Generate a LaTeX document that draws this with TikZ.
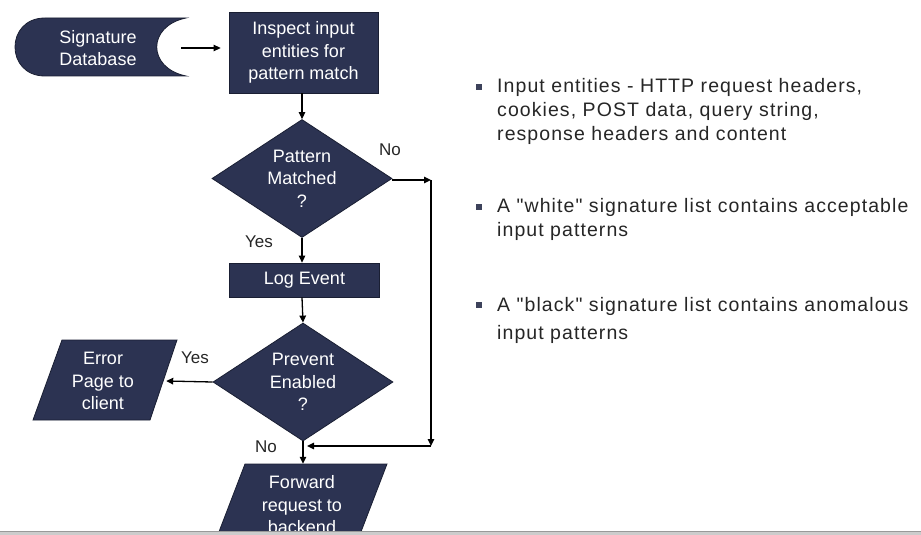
\documentclass[tikz,border=0pt]{standalone}
\usepackage{fontspec}
\setmainfont{Liberation Sans}
\newfontfamily\rtfont[LetterSpace=5.5]{Liberation Sans}
\usetikzlibrary{arrows.meta,shapes.geometric}
\definecolor{navy}{HTML}{2C3352}
\definecolor{edge}{HTML}{1A1F33}
\definecolor{ink}{HTML}{262626}
\begin{document}
\begin{tikzpicture}[x=1pt,y=-1pt,
  shapefill/.style={fill=navy,draw=edge,line width=0.8pt},
  ntext/.style={text=white,font=\fontsize{18}{22.5}\selectfont,align=center,inner sep=0pt},
  box/.style={shapefill,ntext,rectangle},
  decision/.style={shapefill,ntext,diamond,aspect=1.5,minimum width=180pt,minimum height=118pt},
  plain/.style={ntext,rectangle},
  arr/.style={-{Triangle[length=7pt,width=6.5pt]},line width=1.3pt,black},
  lbl/.style={text=ink,font=\fontsize{17}{20}\selectfont,inner sep=0pt},
  rtext/.style={text=ink,font=\rtfont\fontsize{19.5}{24}\selectfont,align=left,anchor=west,inner sep=0pt},
  bulletsq/.style={fill=navy!80!gray,minimum size=6pt,inner sep=0pt,rectangle}
]
\useasboundingbox (0,0) rectangle (921,535);
\clip (0,0) rectangle (921,535);
\fill[white] (0,0) rectangle (921,535);

% Signature database (stored data shape)
\path[shapefill] (45,18) -- (186,18) .. controls (147,26) and (147,68) .. (186,76) -- (45,76) .. controls (5,76) and (5,18) .. (45,18) -- cycle;
\node[plain,minimum width=166pt,minimum height=58pt] (db) at (98,48) {Signature\\Database};

\node[box,minimum width=149pt,minimum height=81pt] (inspect) at (303.5,52.5) {Inspect input\\entities for\\pattern match};
\node[decision] (match) at (302,178.5) {Pattern\\Matched\\?};
\node[box,minimum width=150pt,minimum height=34pt] (log) at (304.5,280) {Log Event};
\node[decision] (prevent) at (303,382) {Prevent\\Enabled\\?};

% Error page parallelogram
\path[shapefill] (62,340) -- (177,340) -- (150,420) -- (33,420) -- cycle;
\node[plain,minimum width=126pt,minimum height=80pt] (err) at (103,381) {Error\\Page to\\client};

% Forward parallelogram
\path[shapefill] (245,464) -- (387,464) -- (354,550) -- (212,550) -- cycle;
\node[plain,minimum width=120pt,minimum height=82pt] (fwd) at (302,505) {Forward\\request to\\backend};

% connectors
\draw[arr] (db.east) -- ([xshift=-8pt]inspect.west |- db.east);
\draw[arr] (inspect.south -| match.north) -- (match.north);
\draw[arr] (match.south) -- (match.south |- log.north);
\draw[arr] (match.south |- log.south) -- (prevent.north);
\draw[arr] (prevent.west) -- (err.east);
\draw[arr] (prevent.south) -- (prevent.south |- fwd.north);
\coordinate (c1) at (431,180);
\coordinate (c2) at (431,446);
\draw[arr] (match.east |- c1) -- (c1);
\draw[arr] (c1) -- (c2);
\draw[arr] (c2) -- ([xshift=4pt]prevent.south |- c2);

% labels
\node[lbl] (no1) at (390,150) {No};
\node[lbl] (yes1) at (259,242) {Yes};
\node[lbl] (yes2) at (195,358) {Yes};
\node[lbl] (no2) at (266,447) {No};

% right text
\node[bulletsq] (b1) at (479,87) {};
\node[bulletsq] (b2) at (479,207) {};
\node[bulletsq] (b3) at (479,305) {};
\node[rtext] (t1) at (497,111) {Input entities - HTTP request headers,\\cookies, POST data, query string,\\response headers and content};
\node[rtext] (t2) at (497,219.5) {A "white" signature list contains acceptable\\input patterns};
\node[rtext] (t3) at (497,320) {A "black" signature list contains anomalous\\[4pt]input patterns};

% bottom band
\fill[black!20] (0,531) rectangle (921,535);
\draw[black!40,line width=0.8pt] (0,531) -- (921,531);
\end{tikzpicture}
\end{document}
